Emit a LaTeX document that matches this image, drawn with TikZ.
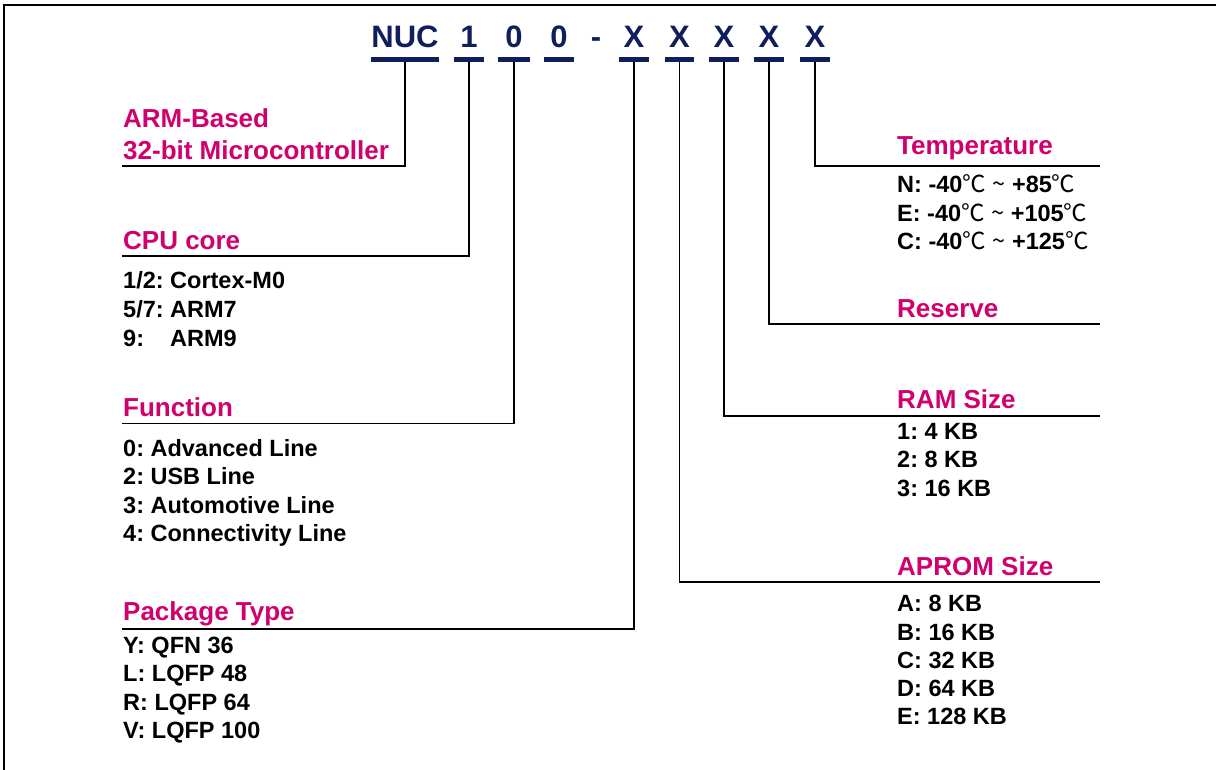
\documentclass[tikz,border=0pt]{standalone}
\usepackage{fontspec}
\setmainfont{Liberation Sans}
\newfontfamily\cjk{Noto Sans CJK SC}
\usetikzlibrary{positioning}
\definecolor{navy}{RGB}{16,30,92}
\definecolor{hdpink}{RGB}{208,0,108}
\newcommand{\degc}{{\cjk\mdseries ℃}}
\frenchspacing
\tikzset{
  pn/.style={text=navy, font=\fontsize{31}{31}\selectfont\bfseries, anchor=base, inner sep=0},
  ul/.style={fill=navy, minimum height=4.5pt, inner sep=0},
  hd/.style={text=hdpink, font=\fontsize{26}{31}\selectfont\bfseries, anchor=base west, inner sep=0},
  itm/.style={font=\fontsize{23.5}{28.5}\selectfont\bfseries, anchor=base west, inner sep=0},
  conn/.style={line width=1.8pt, black}
}
\begin{document}
\begin{tikzpicture}[x=1pt,y=-1pt]
\useasboundingbox (0,0) rectangle (1216,770);
\draw[line width=2.7pt] (4,770) |- (1216,5);

% part number
\foreach \x/\t/\n in {405/NUC/nuc, 469/1/d1, 514/0/d2, 559/0/d3, 596/-/dash,
  634/X/x1, 679.5/X/x2, 724/X/x3, 769/X/x4, 815/X/x5}
  \node[pn] (\n) at (\x,48) {\t};
\foreach \x/\w/\n in {405/68/bnuc, 469/30/b1, 514/32/b2, 559/30/b3,
  634/30/bx1, 679.5/29/bx2, 724/30/bx3, 769/30/bx4, 815/30/bx5}
  \node[ul, minimum width=\w pt] (\n) at (\x,59.5) {};

% left side
\node[hd] (arm) at (123,127.7) {ARM-Based};
\node[hd] (arm2) at (123,159.3) {32-bit Microcontroller};
\coordinate (lnuc) at (122,166);

\node[hd] (cpu) at (123,250) {CPU core};
\coordinate (lcpu) at (122,256);
\foreach \t [count=\i from 0] in {1/2: Cortex-M0, 5/7: ARM7, 9:\hphantom{/7} ARM9}
  \node[itm] (cpu\i) at (123,{289+28.5*\i}) {\t};

\node[hd] (func) at (123,416.7) {Function};
\coordinate (lfunc) at (122,423.5);
\foreach \t [count=\i from 0] in {0: Advanced Line, 2: USB Line,
  3: Automotive Line, 4: Connectivity Line}
  \node[itm] (func\i) at (123,{456+28.5*\i}) {\t};

\node[hd] (pkg) at (123,620) {Package Type};
\coordinate (lpkg) at (122,629);
\foreach \t [count=\i from 0] in {Y: QFN 36, L: LQFP 48, R: LQFP 64, V: LQFP 100}
  \node[itm] (pkg\i) at (123,{653.3+28.4*\i}) {\t};

% right side
\node[hd] (temp) at (897,155) {Temperature};
\coordinate (ltemp) at (1100,165.7);
\foreach \t [count=\i from 0] in {N: -40\degc{} {\cjk\mdseries\textasciitilde} +85\degc,
  E: -40\degc{} {\cjk\mdseries\textasciitilde} +105\degc, C: -40\degc{} {\cjk\mdseries\textasciitilde} +125\degc}
  \node[itm] (temp\i) at (897,{192.7+28.6*\i}) {\t};

\node[hd] (rsv) at (897,317.7) {Reserve};
\coordinate (lrsv) at (1100,324);

\node[hd] (ram) at (897,408.3) {RAM Size};
\coordinate (lram) at (1100,416);
\foreach \t [count=\i from 0] in {1: 4 KB, 2: 8 KB, 3: 16 KB}
  \node[itm] (ram\i) at (897,{439.3+28.5*\i}) {\t};

\node[hd] (aprom) at (897,575) {APROM Size};
\coordinate (laprom) at (1100,582.3);
\foreach \t [count=\i from 0] in {A: 8 KB, B: 16 KB, C: 32 KB, D: 64 KB, E: 128 KB}
  \node[itm] (aprom\i) at (897,{611.7+28.3*\i}) {\t};

% connectors
\draw[conn] (bnuc.south) |- (lnuc);
\draw[conn] (b1.south) |- (lcpu);
\draw[conn] (b2.south) |- (lfunc);
\draw[conn] (bx1.south) |- (lpkg);
\draw[conn] (bx2.south) |- (laprom);
\draw[conn] (bx3.south) |- (lram);
\draw[conn] (bx4.south) |- (lrsv);
\draw[conn] (bx5.south) |- (ltemp);
\end{tikzpicture}
\end{document}
